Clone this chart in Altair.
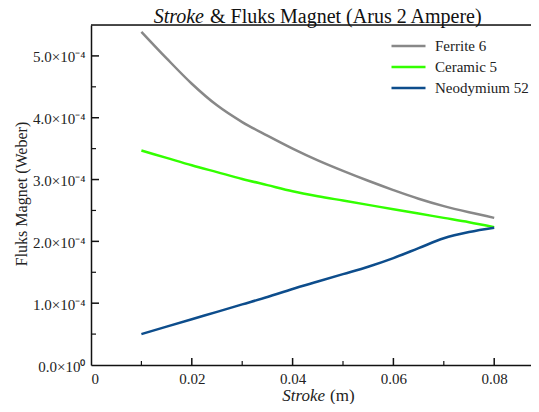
import altair as alt
import pandas as pd

# ---- data ----
stroke = [0.010, 0.015, 0.020, 0.025, 0.030, 0.035, 0.040, 0.045,
          0.050, 0.055, 0.060, 0.065, 0.070, 0.075, 0.080]
ferrite6 = [5.39e-4, 4.96e-4, 4.55e-4, 4.20e-4, 3.93e-4, 3.71e-4, 3.50e-4, 3.31e-4,
            3.14e-4, 2.98e-4, 2.83e-4, 2.69e-4, 2.57e-4, 2.47e-4, 2.38e-4]
ceramic5 = [3.47e-4, 3.35e-4, 3.23e-4, 3.12e-4, 3.01e-4, 2.91e-4, 2.81e-4, 2.73e-4,
            2.66e-4, 2.59e-4, 2.52e-4, 2.45e-4, 2.38e-4, 2.31e-4, 2.23e-4]
neodymium52 = [0.50e-4, 0.62e-4, 0.74e-4, 0.86e-4, 0.98e-4, 1.10e-4, 1.23e-4, 1.35e-4,
               1.47e-4, 1.59e-4, 1.73e-4, 1.89e-4, 2.05e-4, 2.15e-4, 2.22e-4]

series_names = ["Ferrite 6", "Ceramic 5", "Neodymium 52"]
series_colors = ["#888888", "#33ff00", "#0d4d8c"]

x_labels = [0, 0.02, 0.04, 0.06, 0.08]
x_minor = [0.01, 0.03, 0.05, 0.07]
x_major = [0.02, 0.04, 0.06, 0.08]
y_labels = [0, 1e-4, 2e-4, 3e-4, 4e-4, 5e-4]
y_major = [1e-4, 2e-4, 3e-4, 4e-4, 5e-4]
y_minor = [0.5e-4, 1.5e-4, 2.5e-4, 3.5e-4, 4.5e-4]

W, H = 440, 340
X_MAX = 0.0873
FONT = "Liberation Serif"

rows = []
for name, vals in zip(series_names, [ferrite6, ceramic5, neodymium52]):
    for s, v in zip(stroke, vals):
        rows.append({"stroke": s, "flux": v, "series": name})
df = pd.DataFrame(rows)

xscale = alt.Scale(domain=[0, X_MAX], nice=False, zero=False)
yscale = alt.Scale(domain=[0, 5.5e-4], nice=False, zero=False)

lines = alt.Chart(df).mark_line(strokeWidth=2.5, interpolate="monotone", clip=True).encode(
    x=alt.X("stroke:Q", scale=xscale,
            axis=alt.Axis(title=None, values=x_labels, ticks=False, grid=False,
                          labelExpr="datum.value == 0 ? '0' : format(datum.value, '.2f')",
                          labelFont=FONT, labelFontSize=15, labelColor="#222",
                          labelPadding=6, domainColor="#111", domainWidth=1.5)),
    y=alt.Y("flux:Q", scale=yscale,
            axis=alt.Axis(title=None, values=y_labels, ticks=False, grid=False,
                          labelExpr="datum.value == 0 ? '0.0×10⁰' : format(datum.value / 1e-4, '.1f') + '×10⁻⁴'",
                          labelFont=FONT, labelFontSize=15, labelColor="#222",
                          labelPadding=6, labelOffset=1, domainColor="#111", domainWidth=1.5)),
    color=alt.Color("series:N", sort=series_names,
                    scale=alt.Scale(domain=series_names, range=series_colors),
                    legend=alt.Legend(title=None, orient="none", legendX=299, legendY=13,
                                      symbolType="stroke", symbolSize=1156,
                                      symbolStrokeWidth=2.5, labelFont=FONT,
                                      labelFontSize=15, labelColor="#222",
                                      labelOffset=8, clipHeight=16, rowPadding=5,
                                      padding=0)),
)

xmaj = alt.Chart(pd.DataFrame({"v": x_major})).mark_rule(color="#111", strokeWidth=1.5).encode(
    x=alt.X("v:Q", scale=xscale), y=alt.value(H), y2=alt.value(H - 7))
xmin = alt.Chart(pd.DataFrame({"v": x_minor})).mark_rule(color="#111", strokeWidth=1.2).encode(
    x=alt.X("v:Q", scale=xscale), y=alt.value(H), y2=alt.value(H - 4))
ymaj = alt.Chart(pd.DataFrame({"v": y_major})).mark_rule(color="#111", strokeWidth=1.5).encode(
    y=alt.Y("v:Q", scale=yscale), x=alt.value(0), x2=alt.value(8))
ymin = alt.Chart(pd.DataFrame({"v": y_minor})).mark_rule(color="#111", strokeWidth=1.2).encode(
    y=alt.Y("v:Q", scale=yscale), x=alt.value(0), x2=alt.value(5))

top = alt.Chart(pd.DataFrame({"a": [0]})).mark_rule(color="#111", strokeWidth=1.5).encode(
    x=alt.value(0), x2=alt.value(W), y=alt.value(0))

one = pd.DataFrame({"a": [0]})
t1 = alt.Chart(one).mark_text(font=FONT, fontSize=20, fontStyle="italic", align="right",
                              baseline="alphabetic", color="#111").encode(
    x=alt.value(113), y=alt.value(-2), text=alt.value("Stroke"))
t2 = alt.Chart(one).mark_text(font=FONT, fontSize=20, align="left",
                              baseline="alphabetic", color="#111").encode(
    x=alt.value(119), y=alt.value(-2), text=alt.value("& Fluks Magnet (Arus 2 Ampere)"))
xt1 = alt.Chart(one).mark_text(font=FONT, fontSize=17, fontStyle="italic", align="right",
                               baseline="alphabetic", color="#222").encode(
    x=alt.value(234), y=alt.value(376), text=alt.value("Stroke"))
xt2 = alt.Chart(one).mark_text(font=FONT, fontSize=17, align="left",
                               baseline="alphabetic", color="#222").encode(
    x=alt.value(239), y=alt.value(376), text=alt.value("(m)"))
yt = alt.Chart(one).mark_text(font=FONT, fontSize=16, align="center", angle=270,
                              baseline="alphabetic", color="#222").encode(
    x=alt.value(-64), y=alt.value(169), text=alt.value("Fluks Magnet (Weber)"))

chart = alt.layer(lines, xmaj, xmin, ymaj, ymin, top, t1, t2, xt1, xt2, yt).properties(
    width=W, height=H,
    autosize=alt.AutoSizeParams(type="none"),
    padding={"left": 83, "top": 17, "right": 0, "bottom": 39},
).configure_view(stroke=None).configure(background="white", font=FONT)

chart.save("out.html", embed_options={"renderer": "svg", "actions": False})
